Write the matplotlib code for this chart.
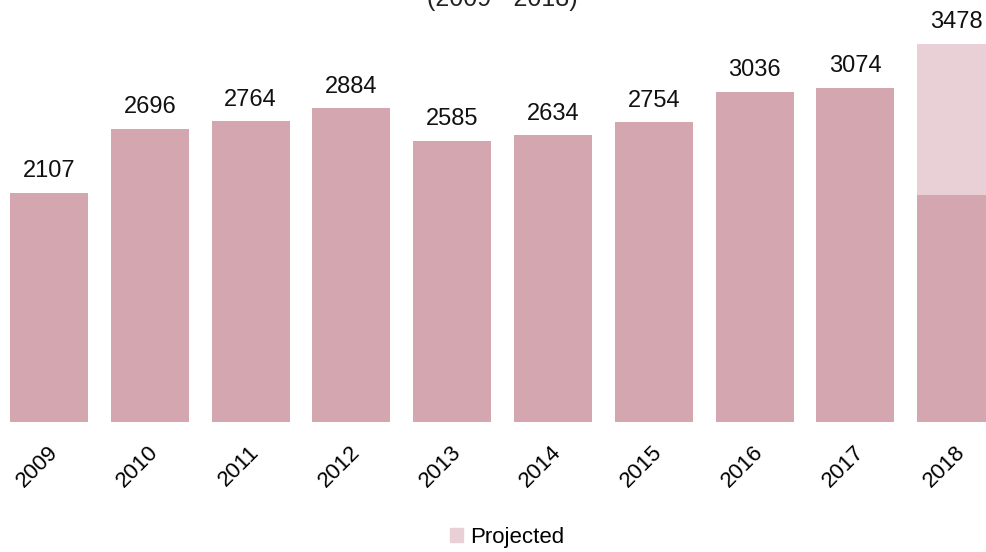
import matplotlib
matplotlib.use("Agg")
import matplotlib.pyplot as plt
from matplotlib.patches import Patch
from matplotlib.transforms import ScaledTranslation

plt.rcParams['font.family'] = ['Liberation Sans', 'DejaVu Sans']

#Chart data
years = ['2009', '2010', '2011', '2012', '2013', '2014', '2015', '2016', '2017', '2018']
values = [2107, 2696, 2764, 2884, 2585, 2634, 2754, 3036, 3074, 2090]
projected = [0, 0, 0, 0, 0, 0, 0, 0, 0, 1388]
totals = [2107, 2696, 2764, 2884, 2585, 2634, 2754, 3036, 3074, 3478]

DARK = '#d4a6b0'
LIGHT = '#e9cfd6'

W, H = 986, 552
fig = plt.figure(figsize=(W / 100, H / 100), dpi=100)
ax = fig.add_axes([0, 130 / H, 1, 422 / H])

x = list(range(len(years)))
ax.bar(x, values, width=0.774, color=DARK)
ax.bar(x, projected, width=0.774, bottom=values, color=LIGHT)

for i, t in enumerate(totals):
    ax.text(i, t + 95, str(t), ha='center', va='bottom', fontsize=17, color='#111111')

ax.set_xlim(-0.486, 9.296)
ax.set_ylim(0, 3879)
ax.set_xticks(x)
ax.set_xticklabels(years, rotation=45, ha='right', rotation_mode='anchor', fontsize=16)
ax.tick_params(axis='x', length=0, pad=14)
#nudge tick labels left a little
for lab in ax.get_xticklabels():
    lab.set_transform(lab.get_transform() + ScaledTranslation(-0.02, 0, fig.dpi_scale_trans))
ax.set_yticks([])
for s in ax.spines.values():
    s.set_visible(False)

#Title is mostly cut off at the top of the image
fig.text(0.509, 1 - 6 / H, '(2009 - 2018)', ha='center', va='baseline',
         fontsize=18, color='#222222')

fig.legend(handles=[Patch(color=LIGHT, label='Projected')], loc='center',
           bbox_to_anchor=(0.514, 1 - 537 / H), frameon=False, fontsize=16,
           handlelength=0.6, handleheight=0.6, handletextpad=0.3)

fig.savefig('out.png', dpi=100)
